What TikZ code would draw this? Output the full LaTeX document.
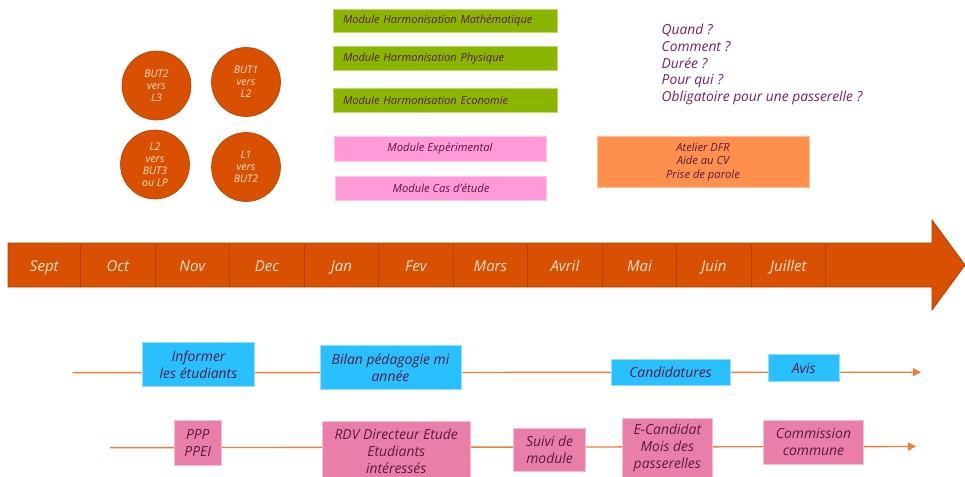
\documentclass[tikz,border=0pt]{standalone}
\usepackage{fontspec}
\setmainfont{Open Sans}
\usetikzlibrary{arrows.meta}
\definecolor{arrowor}{HTML}{D85000}
\definecolor{arrowbd}{HTML}{B04000}
\definecolor{monthtx}{HTML}{FBE3D3}
\definecolor{greenbox}{HTML}{8AB600}
\definecolor{pinklt}{HTML}{FF9AD6}
\definecolor{orbox}{HTML}{FF8F4D}
\definecolor{bluebox}{HTML}{29C0FF}
\definecolor{pinkdk}{HTML}{E97FA9}
\definecolor{linecol}{HTML}{EE7F3A}
\definecolor{txtdark}{HTML}{5A1A45}
\definecolor{txtq}{HTML}{7A1F62}
\tikzset{
  circ/.style={circle, fill=arrowor, draw=arrowbd, line width=0.6pt, minimum size=69pt, inner sep=0pt,
    text=monthtx, align=center, font=\itshape\fontsize{10.5}{12}\selectfont},
  greenmod/.style={rectangle, fill=greenbox, draw=greenbox!55!white, line width=0.8pt, minimum height=24pt,
    text width=204pt, inner xsep=10pt, inner ysep=0pt, align=left, text=txtdark,
    font=\itshape\fontsize{11.1}{13}\selectfont},
  pinkmod/.style={rectangle, fill=pinklt, draw=pinklt!55!white, line width=0.8pt, minimum height=24.3pt,
    inner sep=0pt, align=center, text=txtdark, font=\itshape\fontsize{11.2}{13}\selectfont},
  orbx/.style={rectangle, fill=orbox, draw=orbox!55!white, line width=0.8pt, inner sep=0pt, align=center,
    text=txtdark, font=\itshape\fontsize{11.2}{13.8}\selectfont},
  month/.style={text=monthtx, font=\itshape\fontsize{15}{17}\selectfont, inner sep=0pt, anchor=base},
  bluebx/.style={rectangle, fill=bluebox, draw=bluebox!50!white, line width=0.8pt, inner sep=0pt, align=center,
    text=txtdark, font=\itshape\fontsize{13.9}{16.8}\selectfont},
  pinkbx/.style={rectangle, fill=pinkdk, draw=pinkdk!50!white, line width=0.8pt, inner sep=0pt, align=center,
    text=txtdark, font=\itshape\fontsize{13.9}{16.8}\selectfont},
  tlarrow/.style={draw=linecol, line width=1.4pt, -{Triangle[length=8pt,width=8pt]}}
}
\begin{document}
\begin{tikzpicture}[x=1pt,y=-1pt]
\useasboundingbox (0,0) rectangle (965,476);
\clip (0,0) rectangle (965,476);
\fill[white] (0,0) rectangle (965,476);

% circles
\node[circ] (c1) at (156.5,85.5) {BUT2\\vers\\L3};
\node[circ] (c2) at (246,82) {BUT1\\vers\\L2};
\node[circ] (c3) at (155,164.5) {L2\\vers\\BUT3\\ou LP};
\node[circ] (c4) at (246,167) {L1\\vers\\BUT2};

% green modules
\node[greenmod, minimum height=23.4pt] (gm1) at (445,21) {Module Harmonisation Mathématique};
\node[greenmod] (gm2) at (445,58.7) {Module Harmonisation Physique};
\node[greenmod] (gm3) at (445,100.3) {Module Harmonisation Economie};

% pink modules
\node[pinkmod, minimum width=212pt] (pm1) at (440,149) {Module Expérimental};
\node[pinkmod, minimum width=211pt, minimum height=24pt] (pm2) at (441,188.7) {Module Cas d'étude};

% questions
\node[anchor=north west, inner sep=0pt, align=left, text=txtq, font=\itshape\fontsize{13.8}{16.7}\selectfont]
  (q) at (661.5,24) {Quand ?\\Comment ?\\Durée ?\\Pour qui ?\\Obligatoire pour une passerelle ?};

% orange box
\node[orbx, minimum width=212pt, minimum height=51pt] (ob) at (703,162) {Atelier DFR\\Aide au CV\\Prise de parole};

% timeline arrow
\path[fill=arrowor, draw=arrowbd, line width=0.8pt]
  (8,243) -- (932,243) -- (932,220) -- (965,265) -- (932,310) -- (932,287) -- (8,287) -- cycle;
\foreach \xx in {80.7,155.2,229.7,304.2,378.7,453.2,527.7,602.2,676.7,751.2,825.7}
  \draw[arrowbd, line width=1pt] (\xx,243.5) -- (\xx,286.5);
\node[month] (m1) at (44.3,271) {Sept};
\node[month] (m2) at (117.9,271) {Oct};
\node[month] (m3) at (192.4,271) {Nov};
\node[month] (m4) at (266.9,271) {Dec};
\node[month] (m5) at (341.4,271) {Jan};
\node[month] (m6) at (415.9,271) {Fev};
\node[month] (m7) at (490.4,271) {Mars};
\node[month] (m8) at (564.9,271) {Avril};
\node[month] (m9) at (639.4,271) {Mai};
\node[month] (m10) at (713.9,271) {Juin};
\node[month] (m11) at (788.4,271) {Juillet};

% line 1
\coordinate (l1s) at (72.7,372.7);
\coordinate (l1e) at (921,372.2);
\draw[tlarrow] (l1s) -- (l1e);
\node[bluebx, minimum width=112.4pt, minimum height=44pt] (inf) at (198.5,364.7) {Informer\\les étudiants};
\node[bluebx, minimum width=141pt, minimum height=43.6pt] (bil) at (390.5,367.5) {Bilan pédagogie mi\\année};
\node[bluebx, minimum width=119pt, minimum height=26.7pt] (cand) at (670.5,372.3) {Candidatures};
\node[bluebx, minimum width=70.7pt, minimum height=27.4pt] (avis) at (803.7,368) {Avis};

% line 2
\coordinate (l2s) at (110,447.7);
\coordinate (l2e) at (916,446.5);
\draw[tlarrow] (l2s) -- (l2e);
\node[pinkbx, minimum width=47pt, minimum height=44.3pt] (ppp) at (197.8,442.8) {PPP\\PPEI};
\node[pinkbx, minimum width=147.7pt, minimum height=60pt, anchor=north] (rdv) at (396.2,420.7)
  {RDV Directeur Etude\\Etudiants\\intéressés};
\node[pinkbx, minimum width=72.4pt, minimum height=43.4pt] (suivi) at (549.5,450) {Suivi de\\module};
\node[pinkbx, minimum width=89.3pt, minimum height=60pt, anchor=north] (ecand) at (667.3,417.7)
  {E-Candidat\\Mois des\\passerelles};
\node[pinkbx, minimum width=100.4pt, minimum height=44.3pt] (comm) at (813.5,442.2) {Commission\\commune};
\end{tikzpicture}
\end{document}
